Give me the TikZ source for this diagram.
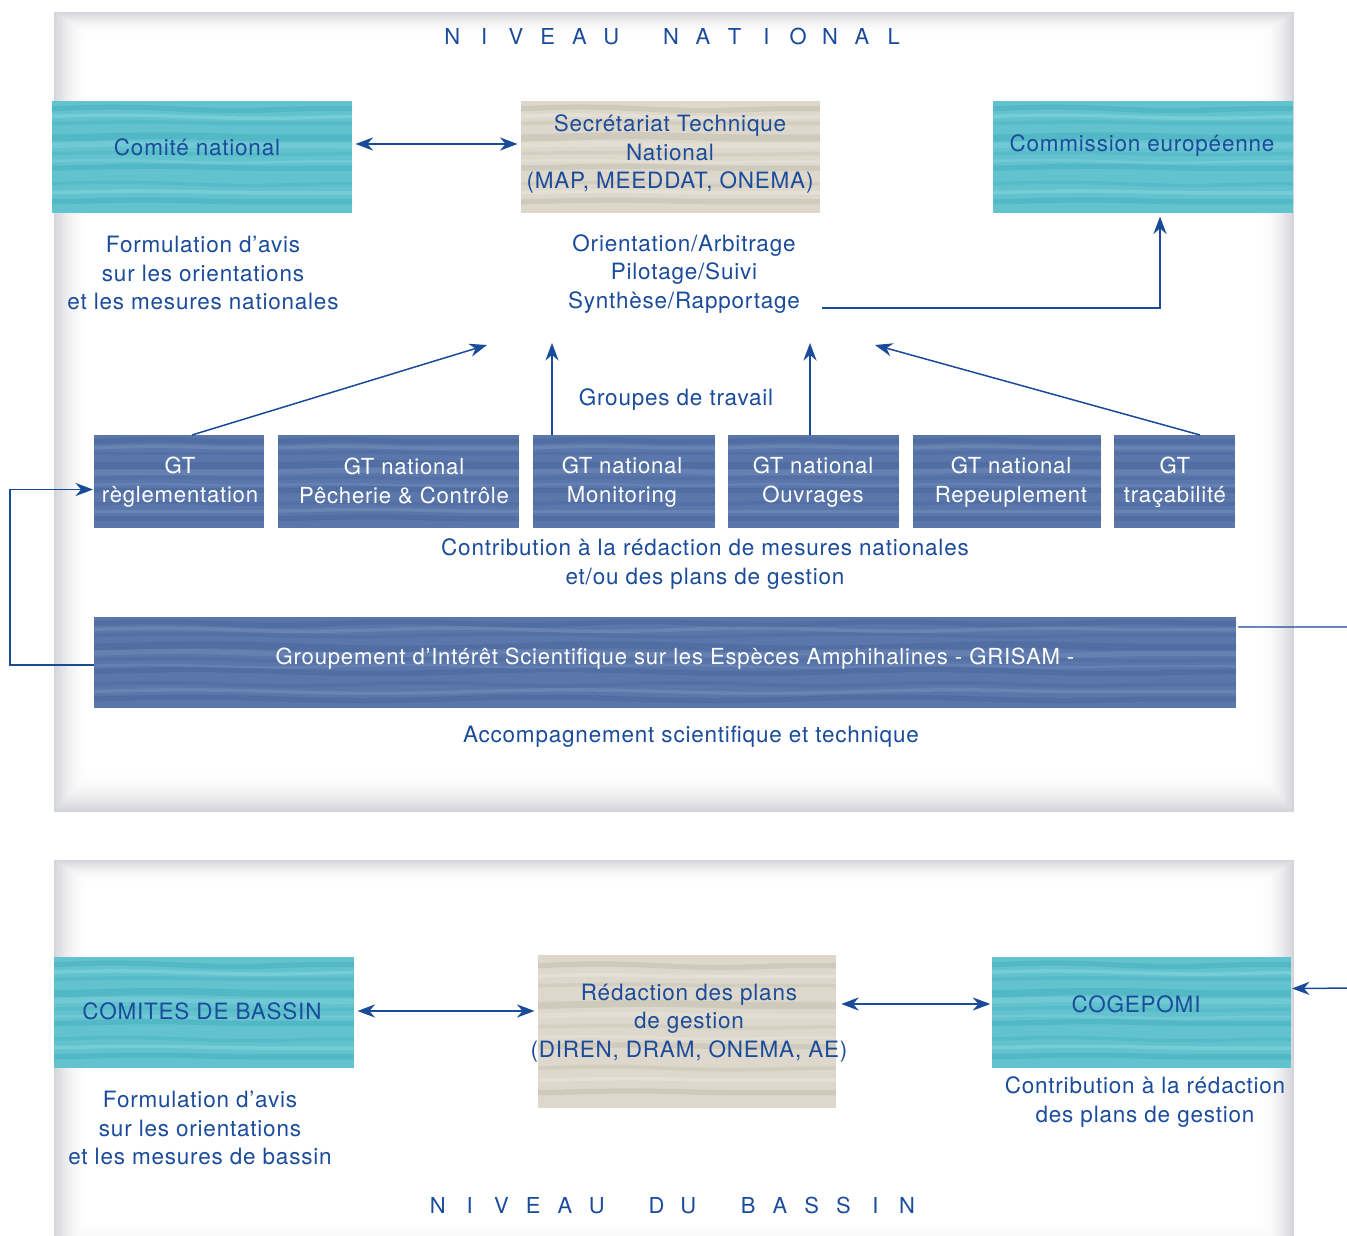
\documentclass[tikz,border=0pt]{standalone}
\usepackage{fontspec}
\setmainfont[LetterSpace=3.5]{TeX Gyre Heros}
\newfontfamily\titlefont{TeX Gyre Heros}
\usetikzlibrary{arrows.meta,calc,fit,decorations.pathmorphing}
\definecolor{tblue}{HTML}{1B4C9C}
\definecolor{ablue}{HTML}{1A4A9A}
\definecolor{tealc}{HTML}{62C3CF}
\definecolor{tealdark}{HTML}{3EA8B6}
\definecolor{teallight}{HTML}{8FD7E1}
\definecolor{beigec}{HTML}{DDD8CB}
\definecolor{beigedark}{HTML}{BCB5A5}
\definecolor{beigelight}{HTML}{EEEBE3}
\definecolor{gtc}{HTML}{5A76AA}
\definecolor{gtdark}{HTML}{45629A}
\definecolor{gtlight}{HTML}{7C93BF}
\definecolor{panelgray}{HTML}{D4D5D9}
\newcommand{\boxwaves}[2]{%
  \foreach \f/\o/\w/\s/\a in {0.07/0.4/3/140/1.0, 0.2/0.3/2/190/0.8, 0.33/0.4/4/230/1.2, 0.47/0.25/2/160/0.7, 0.6/0.4/3/210/1.1, 0.74/0.3/2/150/0.9, 0.9/0.4/3/200/1.0}{%
    \draw[#1, opacity=\o, line width=\w pt, decorate, decoration={snake, amplitude=\a pt, segment length=\s pt}]
      ($(path picture bounding box.north west)!\f!(path picture bounding box.south west)+(-17,0)$) --
      ($(path picture bounding box.north east)!\f!(path picture bounding box.south east)+(9,0)$);
  }%
  \foreach \f/\o/\w/\s/\a in {0.14/0.45/2/170/0.9, 0.4/0.35/3/200/1.1, 0.54/0.35/1.5/150/0.7, 0.82/0.45/2/220/1.0}{%
    \draw[#2, opacity=\o, line width=\w pt, decorate, decoration={snake, amplitude=\a pt, segment length=\s pt}]
      ($(path picture bounding box.north west)!\f!(path picture bounding box.south west)+(-31,0)$) --
      ($(path picture bounding box.north east)!\f!(path picture bounding box.south east)+(7,0)$);
  }%
}
% panel with soft grey edges: nested opaque frames fading to white
\newcommand{\panelbg}[4]{%
  \foreach \i in {0,...,16}{%
    \pgfmathtruncatemacro{\p}{100*(1-\i/16)^2}%
    \fill[panelgray!\p!white] (#1+\i*2.2, #2+\i*1.5) rectangle (#3-\i*2.2, #4-\i*2.6);
  }%
}
\newcommand{\ltr}[1]{\makebox[18.1pt][c]{#1}}
\newcommand{\wgap}{\hspace{15.9pt}}
\tikzset{
  basebox/.style={inner sep=0pt, outer sep=0pt, rectangle},
  tealbox/.style={basebox, fill=tealc, path picture={\boxwaves{tealdark}{teallight}}},
  beigebox/.style={basebox, fill=beigec, path picture={\boxwaves{beigedark}{beigelight}}},
  gtbox/.style={basebox, fill=gtc, path picture={\boxwaves{gtdark}{gtlight}}},
  txt/.style={text=tblue, align=center, inner sep=0pt, font=\fontsize{12.8}{16.4}\selectfont},
  wtxt/.style={text=white, align=center, inner sep=0pt, font=\fontsize{12.6}{16.4}\selectfont},
  ttl/.style={text=tblue, inner sep=0pt, font=\titlefont\fontsize{12.5}{15}\selectfont},
  arr/.style={draw=ablue, line width=0.85pt, ->},
}
\begin{document}
\begin{tikzpicture}[x=0.02cm, y=-0.02cm, >={Stealth[length=10pt,width=7.5pt]}]
\useasboundingbox (0,0) rectangle (1347,1236);
\fill[white] (0,0) rectangle (1347,1236);
% panels
\panelbg{54}{12}{1294}{812}
\panelbg{54}{860}{1294}{1262}

% ---------- national level ----------
\node[ttl] (nn) at (673,37) {\ltr{N}\ltr{I}\ltr{V}\ltr{E}\ltr{A}\ltr{U}\wgap\ltr{N}\ltr{A}\ltr{T}\ltr{I}\ltr{O}\ltr{N}\ltr{A}\ltr{L}};

\node[tealbox, fit={(52,101) (352,213)}] (cn) {};
\node[txt] (cnt) at (197,147) {Comité national};
\node[beigebox, fit={(521,101) (820,213)}] (stn) {};
\node[txt] (stnt) at (670,154) {Secrétariat Technique\\National\\(MAP, MEEDDAT, ONEMA)};
\node[tealbox, fit={(993,101) (1293,213)}] (ce) {};
\node[txt] (cet) at (1142,146) {Commission européenne};

\node[txt] (form1) at (203,273) {Formulation d’avis\\sur les orientations\\et les mesures nationales};
\node[txt] (orient) at (684,274) {Orientation/Arbitrage\\Pilotage/Suivi\\Synthèse/Rapportage};
\node[txt] (gdt) at (676,400) {Groupes de travail};

\node[gtbox, fit={(94,435) (264,528)}] (gt1) {};
\node[wtxt] (gt1t) at (180,482) {GT\\règlementation};
\node[gtbox, fit={(278,435) (519,528)}] (gt2) {};
\node[wtxt] (gt2t) at (404,481) {GT national\\Pêcherie \& Contrôle};
\node[gtbox, fit={(533,435) (715,528)}] (gt3) {};
\node[wtxt] (gt3t) at (622,482) {GT national\\Monitoring};
\node[gtbox, fit={(728,435) (899,528)}] (gt4) {};
\node[wtxt] (gt4t) at (813,482) {GT national\\Ouvrages};
\node[gtbox, fit={(913,435) (1101,528)}] (gt5) {};
\node[wtxt] (gt5t) at (1011,482) {GT national\\Repeuplement};
\node[gtbox, fit={(1114,435) (1235,528)}] (gt6) {};
\node[wtxt] (gt6t) at (1175,482) {GT\\traçabilité};

\node[txt] (contrib) at (705,564) {Contribution à la rédaction de mesures nationales\\et/ou des plans de gestion};

\node[gtbox, fit={(94,617) (1236,708)}] (grisam) {};
\node[wtxt] (grisamt) at (675,659) {Groupement d’Intérêt Scientifique sur les Espèces Amphihalines - GRISAM -};
\node[txt] (accomp) at (691,737) {Accompagnement scientifique et technique};

% ---------- basin level ----------
\node[tealbox, fit={(54,957) (354,1068)}] (cb) {};
\node[txt] (cbt) at (202,1011) {COMITES DE BASSIN};
\node[beigebox, fit={(538,955) (836,1108)}] (red) {};
\node[txt] (redt) at (689,1023) {Rédaction des plans\\de gestion\\(DIREN, DRAM, ONEMA, AE)};
\node[tealbox, fit={(992,957) (1291,1068)}] (cog) {};
\node[txt] (cogt) at (1136,1004) {COGEPOMI};

\node[txt] (formb) at (200,1128) {Formulation d’avis\\sur les orientations\\et les mesures de bassin};
\node[txt] (contribb) at (1145,1102) {Contribution à la rédaction\\des plans de gestion};
\node[ttl] (nb) at (672.5,1205) {\ltr{N}\ltr{I}\ltr{V}\ltr{E}\ltr{A}\ltr{U}\wgap\ltr{D}\ltr{U}\wgap\ltr{B}\ltr{A}\ltr{S}\ltr{S}\ltr{I}\ltr{N}};

% ---------- helper coordinates ----------
\coordinate (o1) at (822,308);
\coordinate (xce) at (1160,0);
\coordinate (a1) at (487,345);
\coordinate (a2) at (552,343);
\coordinate (a3) at (810,343);
\coordinate (a4) at (875,345);
\coordinate (s1) at (192,432);
\coordinate (s4) at (1200,430);
\coordinate (lx) at (10,0);
\coordinate (rx) at (1362,0);

% ---------- connectors ----------
\draw[arr, <->] ([xshift=2pt]cn.east |- 0,144) -- ([xshift=-2pt]stn.west |- 0,144);
\draw[arr] (o1) -| ([yshift=-2pt]xce |- ce.south);
\draw[arr] (gt1.north -| s1) -- (a1);
\draw[arr] (gt3.north -| a2) -- (a2);
\draw[arr] (gt4.north -| a3) -- (a3);
\draw[arr] (gt6.north -| s4) -- (a4);
\draw[arr] (grisam.west |- 0,665) -- (lx |- 0,665) |- ($(gt1.west)+(-1,8)$);
\draw[arr] ($(grisam.north east)+(2,10)$) -- (rx |- 0,627) -- (rx |- 0,988) -- ($(cog.east)+(1,-24)$);
\draw[arr, <->] ([xshift=2pt]cb.east |- cbt) -- ([xshift=-2pt]red.west |- cbt);
\draw[arr, <->] ([xshift=3pt]red.east |- cogt) -- ([xshift=-1pt]cog.west |- cogt);
\end{tikzpicture}
\end{document}
